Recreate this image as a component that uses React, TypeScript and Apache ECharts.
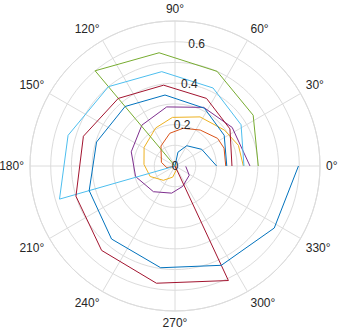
import React, { useEffect, useRef } from "react";
import * as echarts from "echarts";

// Angle ticks (degrees) and radius tick labels
const angleTicks = [0, 30, 60, 90, 120, 150, 180, 210, 240, 270, 300, 330];
const radiusLabels = [0, 0.2, 0.4, 0.6];

const colors = ["#0072BD", "#D95319", "#EDB120", "#7E2F8E", "#77AC30", "#4DBEEE", "#A2142F", "#0072BD"];

// Line 1 (blue, small inner spiral)
const l1Theta = [0, 32, 60, 78, 100];
const l1R = [0.201, 0.152, 0.113, 0.068, 0];
// Line 2 (orange)
const l2Theta = [0, 20, 33, 55, 78, 99, 125, 165, 192, 230];
const l2R = [0.245, 0.252, 0.245, 0.212, 0.186, 0.16, 0.118, 0.068, 0.04, 0];
// Line 3 (yellow)
const l3Theta = [0, 18, 36, 63, 93, 117, 149, 177, 203, 231, 258, 290, 300];
const l3R = [0.33, 0.322, 0.295, 0.266, 0.235, 0.206, 0.174, 0.15, 0.13, 0.089, 0.055, 0.02, 0];
// Line 4 (purple)
const l4Theta = [0, 34, 64, 98, 129, 162, 195, 230, 263, 291, 327, 358];
const l4R = [0.362, 0.333, 0.315, 0.288, 0.254, 0.222, 0.197, 0.162, 0.132, 0.105, 0.082, 0.052];
// Line 5 (green)
const l5Theta = [0, 33, 66, 98, 130, 160];
const l5R = [0.402, 0.45, 0.5, 0.552, 0.6, 0];
// Line 6 (light blue)
const l6Theta = [0, 32, 64, 98, 130, 164, 196, 230];
const l6R = [0.333, 0.376, 0.419, 0.46, 0.5, 0.537, 0.58, 0];
// Line 7 (dark red)
const l7Theta = [0, 34, 65, 98, 130, 162, 197, 229, 261, 295, 330];
const l7R = [0.275, 0.32, 0.36, 0.394, 0.426, 0.465, 0.5, 0.54, 0.573, 0.61, 0];
// Line 8 (blue, outer spiral)
const l8Theta = [0, 32, 63, 98, 130, 163, 196, 229, 262, 295, 328, 360];
const l8R = [0.25, 0.28, 0.313, 0.346, 0.375, 0.396, 0.431, 0.467, 0.496, 0.529, 0.565, 0.596];

const lines = [
  [l1R, l1Theta],
  [l2R, l2Theta],
  [l3R, l3Theta],
  [l4R, l4Theta],
  [l5R, l5Theta],
  [l6R, l6Theta],
  [l7R, l7Theta],
  [l8R, l8Theta],
];

const gridColor = "#dcdcdc";
const textColor = "#262626";
const fontFamily = "'Liberation Sans', Arial, Helvetica, sans-serif";
const fontSize = 12;

export default function App() {
  const ref = useRef<HTMLDivElement>(null);
  useEffect(() => {
    if (!ref.current) return;
    const chart = echarts.init(ref.current, null, { renderer: "svg" });
    const series = lines.map(([rs, ts], i) => ({
      type: "line",
      coordinateSystem: "polar",
      polarIndex: 0,
      data: rs.map((r, k) => [r, ts[k]]),
      symbol: "none",
      showSymbol: false,
      smooth: false,
      lineStyle: { color: colors[i], width: 1 },
      itemStyle: { color: colors[i] },
      z: 3 + i,
    }));
    chart.setOption({
      animation: false,
      polar: [
        { center: [175, 166], radius: 145 },
        { center: [175, 166], radius: 145 },
      ],
      angleAxis: [
        {
          polarIndex: 0,
          type: "value",
          min: 0,
          max: 360,
          interval: 30,
          startAngle: 0,
          clockwise: false,
          axisLine: { show: true, lineStyle: { color: gridColor, width: 1 } },
          axisTick: { show: false },
          splitLine: { show: true, lineStyle: { color: gridColor, width: 1 } },
          axisLabel: {
            show: true,
            margin: 6,
            color: textColor,
            fontSize,
            fontFamily,
            formatter: (v: number) => (angleTicks.indexOf(v) >= 0 ? v + "°" : ""),
          },
        },
        {
          polarIndex: 1,
          type: "value",
          min: 0,
          max: 360,
          startAngle: 80,
          clockwise: false,
          show: false,
        },
      ],
      radiusAxis: [
        {
          polarIndex: 0,
          type: "value",
          min: 0,
          max: 0.7,
          interval: 0.1,
          axisLine: { show: false },
          axisTick: { show: false },
          axisLabel: { show: false },
          splitLine: { show: true, lineStyle: { color: gridColor, width: 1 } },
        },
        {
          polarIndex: 1,
          type: "value",
          min: 0,
          max: 0.7,
          interval: 0.2,
          z: 20,
          axisLine: { show: false },
          axisTick: { show: false },
          splitLine: { show: false },
          axisLabel: {
            show: true,
            margin: 0,
            align: "center",
            verticalAlign: "middle",
            color: textColor,
            fontSize,
            fontFamily,
            formatter: (v: number) => {
              const rv = Math.round(v * 10) / 10;
              return radiusLabels.indexOf(rv) >= 0 ? String(rv) : "";
            },
          },
        },
      ],
      series,
    });
    return () => chart.dispose();
  }, []);
  return (
    <div
      ref={ref}
      style={{ position: "fixed", left: 0, top: 0, width: 339, height: 331, background: "#fff" }}
    />
  );
}
